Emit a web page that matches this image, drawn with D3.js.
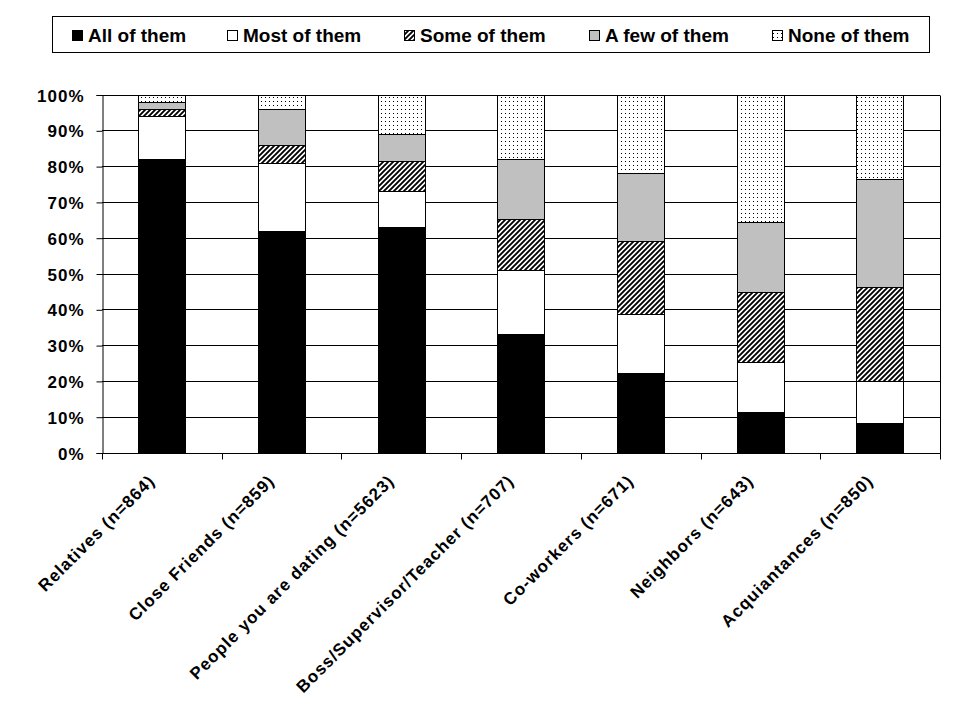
<!DOCTYPE html>
<html>
<head>
<meta charset="utf-8">
<script src="https://cdn.jsdelivr.net/npm/d3@7/dist/d3.min.js"></script>
<style>
  html, body { margin: 0; padding: 0; background: #fff; }
  svg { display: block; }
  text { font-family: Arial, "Liberation Sans", sans-serif; font-weight: bold; fill: #000; }
</style>
</head>
<body>
<svg id="chart" width="960" height="720"></svg>
<script>
const categories = ["Relatives (n=864)", "Close Friends (n=859)", "People you are dating (n=5623)", "Boss/Supervisor/Teacher (n=707)", "Co-workers (n=671)", "Neighbors (n=643)", "Acquiantances (n=850)"];
const seriesNames = ["All of them", "Most of them", "Some of them", "A few of them", "None of them"];
const allOfThem  = [82, 62, 63, 33, 22.1, 11.3, 8.2];
const mostOfThem = [12, 19, 10, 18.1, 16.7, 14.1, 11.9];
const someOfThem = [2, 5, 8.3, 14, 20.2, 19.3, 26];
const aFewOfThem = [2, 10, 7.8, 17, 19.1, 19.8, 30.2];
const noneOfThem = [2, 4, 10.9, 17.9, 21.9, 35.5, 23.7];
const yTicks = [0, 10, 20, 30, 40, 50, 60, 70, 80, 90, 100];

const svg = d3.select("#chart");
const defs = svg.append("defs");

// patterns
const hatch = defs.append("pattern").attr("id", "hatch").attr("patternUnits", "userSpaceOnUse")
  .attr("width", 5).attr("height", 5);
hatch.append("rect").attr("width", 5).attr("height", 5).attr("fill", "#fff");
hatch.append("path").attr("d", "M-1,1 L1,-1 M0,5 L5,0 M4,6 L6,4").attr("stroke", "#000").attr("stroke-width", 1.9);

const dots = defs.append("pattern").attr("id", "dots").attr("patternUnits", "userSpaceOnUse")
  .attr("width", 4).attr("height", 4);
dots.append("rect").attr("width", 4).attr("height", 4).attr("fill", "#fff");
dots.append("rect").attr("x", 1).attr("y", 1).attr("width", 1).attr("height", 1).attr("fill", "#000");

const fills = ["#000", "#fff", "url(#hatch)", "#c0c0c0", "url(#dots)"];

const data = categories.map((c, i) => ({
  cat: c,
  [seriesNames[0]]: allOfThem[i],
  [seriesNames[1]]: mostOfThem[i],
  [seriesNames[2]]: someOfThem[i],
  [seriesNames[3]]: aFewOfThem[i],
  [seriesNames[4]]: noneOfThem[i]
}));

const plotLeft = 102, plotRight = 940, plotTop = 94.5, plotBottom = 452.5;

const x = d3.scaleBand().domain(categories).range([plotLeft, plotRight]).paddingInner(0.604).paddingOuter(0.302);
const y = d3.scaleLinear().domain([0, 100]).range([plotBottom, plotTop]);

// gridlines
svg.append("g").selectAll("line").data(yTicks).join("line")
  .attr("x1", plotLeft).attr("x2", plotRight)
  .attr("y1", d => Math.round(y(d)) + 0.5).attr("y2", d => Math.round(y(d)) + 0.5)
  .attr("stroke", "#000").attr("stroke-width", 1);

// right border
svg.append("line").attr("x1", plotRight + 0.5).attr("x2", plotRight + 0.5)
  .attr("y1", Math.round(plotTop) + 0.5).attr("y2", Math.round(plotBottom) + 0.5)
  .attr("stroke", "#000");

// stacked bars
const stack = d3.stack().keys(seriesNames);
const layers = stack(data);
svg.append("g").selectAll("g").data(layers).join("g")
  .attr("fill", (d, i) => fills[i])
  .selectAll("rect").data(d => d).join("rect")
  .attr("x", d => Math.round(x(d.data.cat)) + 0.5)
  .attr("width", Math.round(x.bandwidth()))
  .attr("y", d => Math.round(y(d[1])) + 0.5)
  .attr("height", d => Math.round(y(d[0])) - Math.round(y(d[1])))
  .attr("stroke", "#000").attr("stroke-width", 1);

// y axis
const yAxis = d3.axisLeft(y).tickValues(yTicks).tickFormat(d => d + "%").tickSize(6).tickPadding(12);
const yg = svg.append("g").attr("transform", `translate(${plotLeft + 0.5},0.5)`).call(yAxis);
yg.attr("font-family", null).attr("font-size", null);
yg.select(".domain").attr("stroke", "#000");
yg.selectAll(".tick line").attr("stroke", "#000");
yg.selectAll("text").style("font-size", "17px").style("letter-spacing", "1px")
  .attr("fill", "#000").attr("dy", "0.36em");

// x axis
const xAxis = d3.axisBottom(x).tickSize(0).tickFormat("");
const xg = svg.append("g").attr("transform", `translate(0,${Math.round(plotBottom) + 0.5})`).call(xAxis);
xg.select(".domain").attr("d", `M${plotLeft + 0.5},0H${plotRight + 0.5}`).attr("stroke", "#000");
// category boundary ticks
const bounds = d3.range(categories.length + 1).map(i => plotLeft + i * x.step());
xg.selectAll(".bound").data(bounds).join("line").attr("class", "bound")
  .attr("x1", d => Math.round(d) + 0.5).attr("x2", d => Math.round(d) + 0.5)
  .attr("y1", 0).attr("y2", 6).attr("stroke", "#000");

// rotated category labels
svg.append("g").selectAll("text").data(categories).join("text")
  .attr("transform", d => `translate(${x(d) + x.bandwidth() / 2 - 6},482) rotate(-45)`)
  .attr("text-anchor", "end")
  .style("font-size", "17px").style("letter-spacing", "1px")
  .text(d => d);

// legend
const legend = svg.append("g");
legend.append("rect").attr("x", 52.5).attr("y", 16.5).attr("width", 877).attr("height", 36)
  .attr("fill", "#fff").attr("stroke", "#000");
const legendX = [72, 227, 404, 589, 772];
const items = legend.selectAll("g.item").data(seriesNames).join("g").attr("class", "item")
  .attr("transform", (d, i) => `translate(${legendX[i]},0)`);
items.append("rect").attr("x", 0.5).attr("y", 30.5).attr("width", 10).attr("height", 10)
  .attr("fill", (d, i) => fills[i]).attr("stroke", "#000");
items.append("text").attr("x", 16).attr("y", 41.5).style("font-size", "19px").text(d => d);
</script>
</body>
</html>
